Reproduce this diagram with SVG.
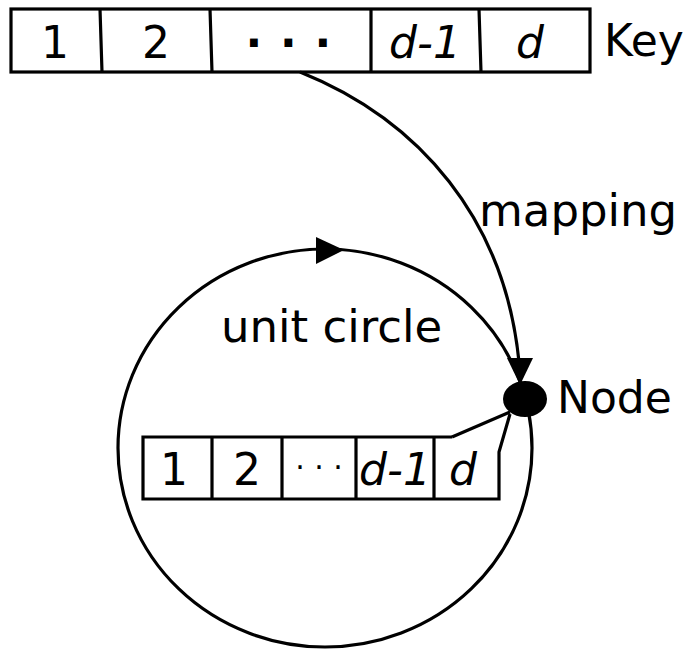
<svg xmlns="http://www.w3.org/2000/svg" width="690" height="649" viewBox="0 0 690 649">
<style>
.ln{fill:none;stroke:#000;stroke-width:3.2}
.t{font-family:"DejaVu Sans",sans-serif;font-size:44px;fill:#000}
.c{text-anchor:middle}
.i{font-style:italic}
</style>
<rect width="690" height="649" fill="#fff"/>
<g id="key">
<rect class="ln" x="11" y="9" width="579" height="63"/>
<path class="ln" d="M100,9 L102,72 M210,9 L212,72 M371,9 L371,72 M479,9 L481,72"/>
<text class="t c" x="55" y="58">1</text>
<text class="t c" x="156" y="58">2</text>
<text class="t" x="245.5" y="58" style="letter-spacing:1.25px;font-weight:bold">· · ·</text>
<text class="t c i" x="425" y="58">d-1</text>
<text class="t c i" x="530" y="58">d</text>
<text class="t" x="604" y="56">Key</text>
</g>
<g id="unit-circle">
<ellipse class="ln" cx="325" cy="448" rx="207" ry="199"/>
<path d="M316,237 L344,250 L316,264 z" fill="#000"/>
<text class="t" x="221" y="342" style="font-size:45px">unit circle</text>
</g>
<g id="node-array">
<path class="ln" d="M452,437 L143,437 L143,499 L499,499 L499,452 L510,414"/>
<path class="ln" d="M452,437 L510,412"/>
<path class="ln" d="M212,437 V499 M282,437 V499 M356,437 V499 M434,437 V499"/>
<text class="t c" x="174" y="485">1</text>
<text class="t c" x="247" y="485">2</text>
<text class="t c" x="319" y="478" style="font-size:30px">· · ·</text>
<text class="t c i" x="395" y="485">d-1</text>
<text class="t c i" x="463" y="485">d</text>
</g>
<g id="node">
<ellipse cx="525" cy="399" rx="22" ry="18" fill="#000"/>
<text class="t" x="557" y="413">Node</text>
</g>
<g id="connectors">
<path class="ln" d="M300,72 C420,120 505,220 519,362"/>
<path d="M507,358 L533,358 L520,385 z" fill="#000"/>
<text class="t" x="479" y="226" style="font-size:45px">mapping</text>
</g>
</svg>
